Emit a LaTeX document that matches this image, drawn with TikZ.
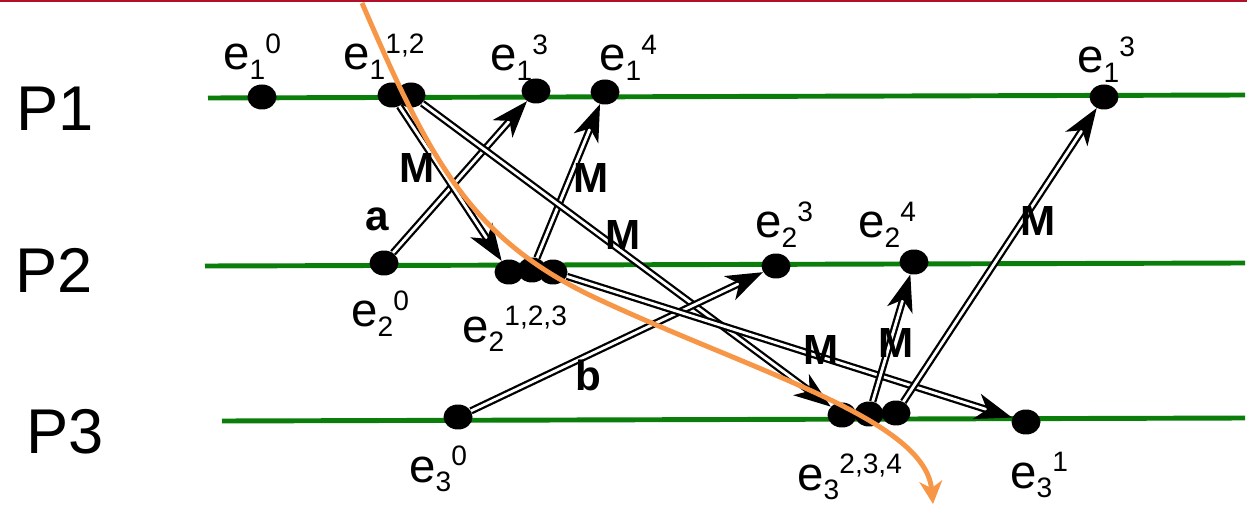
\documentclass[tikz,border=0pt]{standalone}
\usepackage{fontspec}
\setmainfont{Liberation Sans}
\usepackage{tikz}
\usetikzlibrary{positioning, arrows.meta, shapes.geometric}
\definecolor{pLine}{HTML}{0A7D0A}
\definecolor{cutOrange}{HTML}{F79646}
\definecolor{topRed}{HTML}{B0102A}
\newcommand{\evsc}{\fontsize{16}{16}\selectfont}
\newcommand{\evt}[2]{e\raisebox{-5.5pt}{\evsc #1}\raisebox{9.5pt}{\evsc #2}}
\tikzset{
  evdot/.style={ellipse, fill=black, minimum width=0.58cm, minimum height=0.5cm, inner sep=0pt},
  evlab/.style={anchor=base west, inner sep=0pt, font=\fontsize{27}{27}\selectfont},
  plab/.style={anchor=base west, inner sep=0pt, font=\fontsize{36}{36}\selectfont},
  mlab/.style={inner sep=0pt, font=\fontsize{24}{24}\selectfont\bfseries},
  proc/.style={draw=pLine, line width=2.8pt},
  msg/.style={draw=black, double=white, line width=1.3pt, double distance=1.6pt,
    -{Stealth[length=21pt, width=15pt, inset=6pt]}},
  cut/.style={draw=cutOrange, line width=2.8pt, -{Stealth[length=13pt, width=13pt, inset=4pt]}},
}

\begin{document}
\begin{tikzpicture}[x=0.02cm, y=-0.02cm]
  \useasboundingbox (0,0) rectangle (1247,506);
  \draw[topRed, line width=0.9pt] (0,0.8) -- (1247,0.8);
  % processes
  \draw[proc] (208,98) -- (1245,95);
  \draw[proc] (205,266) -- (1245,263);
  \draw[proc] (222,421) -- (1245,418);
  \node[plab] (p1) at (16,131) {P1};
  \node[plab] (p2) at (15,293) {P2};
  \node[plab] (p3) at (26,453) {P3};
  % events
  \node[evdot] (e10) at (262,97) {};
  \node[evdot] (e1a) at (392,95) {};
  \node[evdot] (e1b) at (411,95) {};
  \node[evdot] (e13) at (536,91) {};
  \node[evdot] (e14) at (605,92) {};
  \node[evdot] (e13r) at (1104,97) {};
  \node[evdot] (e20) at (384,263) {};
  \node[evdot] (e2a) at (509,272) {};
  \node[evdot] (e2c) at (553,272) {};
  \node[evdot] (e2b) at (532,270) {};
  \node[evdot] (e23) at (776,266) {};
  \node[evdot] (e24) at (914,262) {};
  \node[evdot] (e30) at (458,417) {};
  \node[evdot] (e3a) at (842,415) {};
  \node[evdot] (e3b) at (869,414) {};
  \node[evdot] (e3c) at (896,413) {};
  \node[evdot] (e31) at (1026,422) {};
  \node[evlab] (l10) at (223,70) {\evt{1}{0}};
  \node[evlab] (l1ab) at (343,70) {\evt{1}{1,2}};
  \node[evlab] (l13) at (490,71) {\evt{1}{3}};
  \node[evlab] (l14) at (599,71) {\evt{1}{4}};
  \node[evlab] (l13r) at (1077,73) {\evt{1}{3}};
  \node[evlab] (l20) at (351,327) {\evt{2}{0}};
  \node[evlab] (l2abc) at (462,342) {\evt{2}{1,2,3}};
  \node[evlab] (l23) at (755,238) {\evt{2}{3}};
  \node[evlab] (l24) at (858,238) {\evt{2}{4}};
  \node[evlab] (l30) at (409,482) {\evt{3}{0}};
  \node[evlab] (l3abc) at (797,490) {\evt{3}{2,3,4}};
  \node[evlab] (l31) at (1010,488) {\evt{3}{1}};
  % messages
  \draw[msg] (e20) -- (e13);
  \draw[msg] (e1a) -- (e2a);
  \draw[msg] (e2b) -- (e14);
  \draw[msg] (e1b) -- (e3a);
  \draw[msg] (e30) -- (e23);
  \draw[msg] (e2c) -- (e31);
  \draw[msg] (e3b) -- (e24);
  \draw[msg] (e3c) -- (e13r);
  \node[mlab] (ma) at (377,219) {a};
  \node[mlab] (mb) at (588,375) {b};
  \node[mlab] (m1) at (417,168) {M};
  \node[mlab] (m2) at (591,178) {M};
  \node[mlab] (m3) at (623,235) {M};
  \node[mlab] (m4) at (821,350) {M};
  \node[mlab] (m5) at (896,343) {M};
  \node[mlab] (m6) at (1038,221) {M};
  % cut
  \draw[cut] (362,3) .. controls (430,160) and (470,240) .. (600,300)
    .. controls (760,374) and (925,420) .. (933,504);
\end{tikzpicture}
\end{document}
